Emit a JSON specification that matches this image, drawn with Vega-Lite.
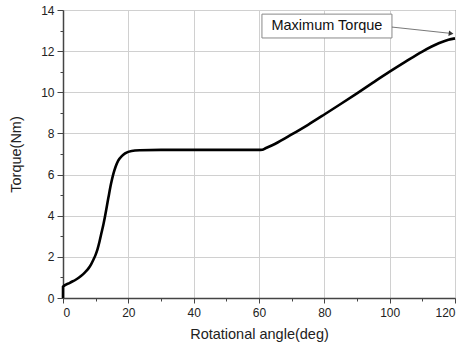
{
  "$schema": "https://vega.github.io/schema/vega-lite/v6.json",
  "autosize": {"type": "none"},
  "width": 392,
  "height": 288,
  "padding": {"left": 63, "top": 10, "right": 10, "bottom": 49},
  "background": "white",
  "config": {
    "view": {"stroke": "#444", "strokeWidth": 1},
    "font": "Liberation Sans",
    "axis": {
      "labelFont": "Liberation Sans",
      "titleFont": "Liberation Sans",
      "labelFontSize": 12,
      "titleFontSize": 14.5,
      "titleFontWeight": "normal",
      "labelColor": "#222",
      "titleColor": "#222",
      "domainColor": "#444",
      "domainWidth": 1.5,
      "tickColor": "#444",
      "tickWidth": 1,
      "gridColor": "#d0d0d0",
      "gridWidth": 1
    }
  },
  "datasets": {
    "curve": [
      {"angle": 0, "torque": 0},
      {"angle": 0.01, "torque": 0.55},
      {"angle": 2.1, "torque": 0.74},
      {"angle": 4.0, "torque": 0.9},
      {"angle": 5.5, "torque": 1.07},
      {"angle": 6.8, "torque": 1.26},
      {"angle": 7.8, "torque": 1.44},
      {"angle": 8.6, "torque": 1.64},
      {"angle": 9.3, "torque": 1.86},
      {"angle": 10.0, "torque": 2.11},
      {"angle": 10.6, "torque": 2.39},
      {"angle": 11.2, "torque": 2.76},
      {"angle": 11.8, "torque": 3.18},
      {"angle": 12.4, "torque": 3.6},
      {"angle": 12.9, "torque": 4.0},
      {"angle": 13.9, "torque": 4.88},
      {"angle": 14.7, "torque": 5.55},
      {"angle": 15.4, "torque": 6.02},
      {"angle": 16.1, "torque": 6.38},
      {"angle": 16.9, "torque": 6.68},
      {"angle": 18.0, "torque": 6.9},
      {"angle": 19.0, "torque": 7.03},
      {"angle": 21.0, "torque": 7.15},
      {"angle": 23.6, "torque": 7.18},
      {"angle": 30, "torque": 7.2},
      {"angle": 45, "torque": 7.2},
      {"angle": 60, "torque": 7.2},
      {"angle": 61, "torque": 7.21},
      {"angle": 62, "torque": 7.28},
      {"angle": 65, "torque": 7.5},
      {"angle": 70, "torque": 7.95},
      {"angle": 75, "torque": 8.42},
      {"angle": 80, "torque": 8.92},
      {"angle": 85, "torque": 9.43},
      {"angle": 90, "torque": 9.95},
      {"angle": 95, "torque": 10.48},
      {"angle": 100, "torque": 11.0},
      {"angle": 105, "torque": 11.5},
      {"angle": 110, "torque": 11.98},
      {"angle": 115, "torque": 12.38},
      {"angle": 118, "torque": 12.55},
      {"angle": 120, "torque": 12.62}
    ],
    "box": [{"x1": 60.9, "x2": 100.7, "y1": 12.64, "y2": 13.8, "xm": 80.8, "ym": 13.22, "label": "Maximum Torque"}],
    "arrow": [{"x1": 100.7, "y1": 13.17, "x2": 118.3, "y2": 12.87, "xe": 118.8, "ye": 12.86}],
    "minor": [{"angle": 10, "torque": 1}]
  },
  "layer": [
    {
      "data": {"name": "curve"},
      "mark": {"type": "line", "color": "black", "strokeWidth": 2.6, "interpolate": "monotone"},
      "encoding": {
        "x": {"field": "angle", "type": "quantitative", "scale": {"domain": [0, 120], "nice": false},
          "axis": {"title": "Rotational angle(deg)", "values": [0, 20, 40, 60, 80, 100, 120], "tickSize": 5, "labelPadding": 4, "titlePadding": 9, "orient": "bottom"}},
        "y": {"field": "torque", "type": "quantitative", "scale": {"domain": [0, 14], "nice": false},
          "axis": {"title": "Torque(Nm)", "values": [0, 2, 4, 6, 8, 10, 12, 14], "tickSize": 6, "labelPadding": 3, "titlePadding": 17, "orient": "left"}}
      }
    },
    {
      "data": {"name": "minor"},
      "mark": {"type": "point", "opacity": 0},
      "encoding": {
        "x": {"field": "angle", "type": "quantitative", "scale": {"domain": [0, 120], "nice": false},
          "axis": {"orient": "bottom", "values": [10, 30, 50, 70, 90, 110], "labels": false, "domain": false, "grid": false, "tickSize": 3, "title": null}},
        "y": {"field": "torque", "type": "quantitative", "scale": {"domain": [0, 14], "nice": false},
          "axis": {"orient": "left", "values": [1, 3, 5, 7, 9, 11, 13], "labels": false, "domain": false, "grid": false, "tickSize": 3, "title": null}}
      }
    },
    {
      "data": {"name": "box"},
      "mark": {"type": "rect", "fill": "white", "stroke": "#888", "strokeWidth": 1},
      "encoding": {
        "x": {"field": "x1", "type": "quantitative", "axis": null},
        "x2": {"field": "x2"},
        "y": {"field": "y1", "type": "quantitative", "axis": null},
        "y2": {"field": "y2"}
      }
    },
    {
      "data": {"name": "box"},
      "mark": {"type": "text", "fontSize": 14.5, "color": "#111", "font": "Liberation Sans"},
      "encoding": {
        "x": {"field": "xm", "type": "quantitative", "axis": null},
        "y": {"field": "ym", "type": "quantitative", "axis": null},
        "text": {"field": "label"}
      }
    },
    {
      "data": {"name": "arrow"},
      "mark": {"type": "rule", "color": "#555", "strokeWidth": 0.8},
      "encoding": {
        "x": {"field": "x1", "type": "quantitative", "axis": null},
        "x2": {"field": "x2"},
        "y": {"field": "y1", "type": "quantitative", "axis": null},
        "y2": {"field": "y2"}
      }
    },
    {
      "data": {"name": "arrow"},
      "mark": {"type": "point", "shape": "triangle-right", "filled": true, "color": "#333", "size": 30, "angle": 7, "opacity": 1},
      "encoding": {
        "x": {"field": "xe", "type": "quantitative", "axis": null},
        "y": {"field": "ye", "type": "quantitative", "axis": null}
      }
    }
  ],
  "resolve": {"axis": {"x": "independent", "y": "independent"}}
}
